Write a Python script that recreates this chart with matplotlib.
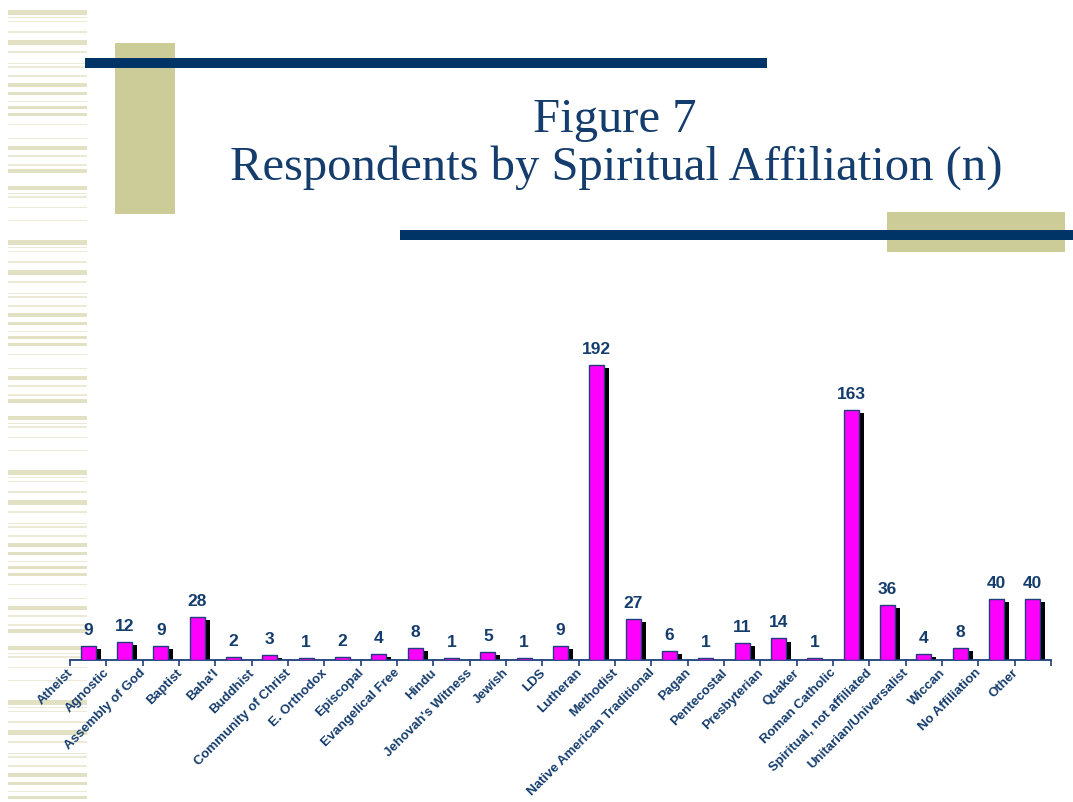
import matplotlib
matplotlib.use("Agg")
import matplotlib.pyplot as plt
import matplotlib.transforms as mtransforms
from matplotlib.patches import Rectangle
import numpy as np

# data
categories = ["Atheist", "Agnostic", "Assembly of God", "Baptist", "Baha'I", "Buddhist",
              "Community of Christ", "E. Orthodox", "Episcopal", "Evangelical Free", "Hindu",
              "Jehovah's Witness", "Jewish", "LDS", "Lutheran", "Methodist",
              "Native American Traditional", "Pagan", "Pentecostal", "Presbyterian", "Quaker",
              "Roman Catholic", "Spiritual, not affiliated", "Unitarian/Universalist", "Wiccan",
              "No Affiliation", "Other"]
counts = [9, 12, 9, 28, 2, 3, 1, 2, 4, 8, 1, 5, 1, 9, 192, 27, 6, 1, 11, 14, 1, 163, 36, 4, 8, 40, 40]

W, H = 1073, 802
NAVY = "#003366"
TXT = "#143C6C"
KHAKI = "#CCCC99"

fig = plt.figure(figsize=(W / 100, H / 100), dpi=100)


def px_rect(x0, y0, x1, y1, color, z=0):
    # rectangle in pixel coords measured from the top-left corner
    fig.patches.append(Rectangle((x0 / W, 1 - y1 / H), (x1 - x0) / W, (y1 - y0) / H,
                                 transform=fig.transFigure, color=color, zorder=z, lw=0))


# striped band on the left
tile = [(10, 5), (17, 1), (21, 1), (31, 2), (40, 5), (51, 2), (63, 1), (66, 2), (75, 2),
        (83, 4), (92, 3), (101, 1), (106, 3), (113, 3), (124, 1), (138, 1), (146, 4),
        (155, 2), (164, 2), (169, 4), (186, 4), (193, 1), (196, 2), (207, 1), (220, 1)]
for start in range(0, H, 230):
    for y, h in tile:
        col = "#E3E1C4" if h >= 3 else "#ECEAD6"
        px_rect(8, start + y, 87, start + y + h, col)

px_rect(115, 43, 175, 214, KHAKI, 1)
px_rect(85, 58, 767, 68, NAVY, 2)
px_rect(887, 212, 1065, 252, KHAKI, 1)
px_rect(400, 230, 1073, 240, NAVY, 2)

fig.text(615 / W, 1 - 120 / H, "Figure 7", ha="center", va="center",
         family="Liberation Serif", fontsize=35, color=TXT)
fig.text(616 / W, 1 - 168 / H, "Respondents by Spiritual Affiliation (n)", ha="center",
         va="center", family="Liberation Serif", fontsize=35, color=TXT)

# chart
ax = fig.add_axes([70 / W, (H - 660) / H, (1051 - 70) / W, 330 / H])
ax.set_zorder(5)
ax.set_facecolor("none")
x = np.arange(len(categories))
vals = np.array(counts, dtype=float)
bw = 0.41
ax.bar(x + 0.14, np.clip(vals - 2, 0, None), width=bw, color="black", zorder=2)
ax.bar(x, vals, width=bw, color="#FF00FF", edgecolor="#1F3F7A", linewidth=1, zorder=3)

for xi, v in zip(x, counts):
    ax.annotate(str(v), (xi, v), xytext=(0, 8), textcoords="offset pixels", ha="center",
                va="bottom", fontsize=12.5, fontweight="bold", color=TXT, family="Liberation Sans")

ax.set_xlim(-0.5, len(categories) - 0.5)
ax.set_ylim(0, 330 / 1.536)
ax.set_yticks([])
for s in ["top", "right", "left"]:
    ax.spines[s].set_visible(False)
ax.spines["bottom"].set_color("#1F3F7A")
ax.spines["bottom"].set_linewidth(1.3)
ax.set_xticks(np.arange(-0.5, len(categories), 1.0))
ax.set_xticklabels([])
ax.tick_params(axis="x", direction="out", length=4, width=1.2, color="#1F3F7A")

offset = mtransforms.ScaledTranslation(-17 / 100, -11 / 100, fig.dpi_scale_trans)
trans = ax.get_xaxis_transform() + offset
for xi, lab in zip(x, categories):
    ax.text(xi, 0, lab, transform=trans, rotation=45, rotation_mode="anchor", ha="right",
            va="center", fontsize=9.5, fontweight="bold", color=TXT, family="Liberation Sans")

fig.savefig("out.png", dpi=100)
